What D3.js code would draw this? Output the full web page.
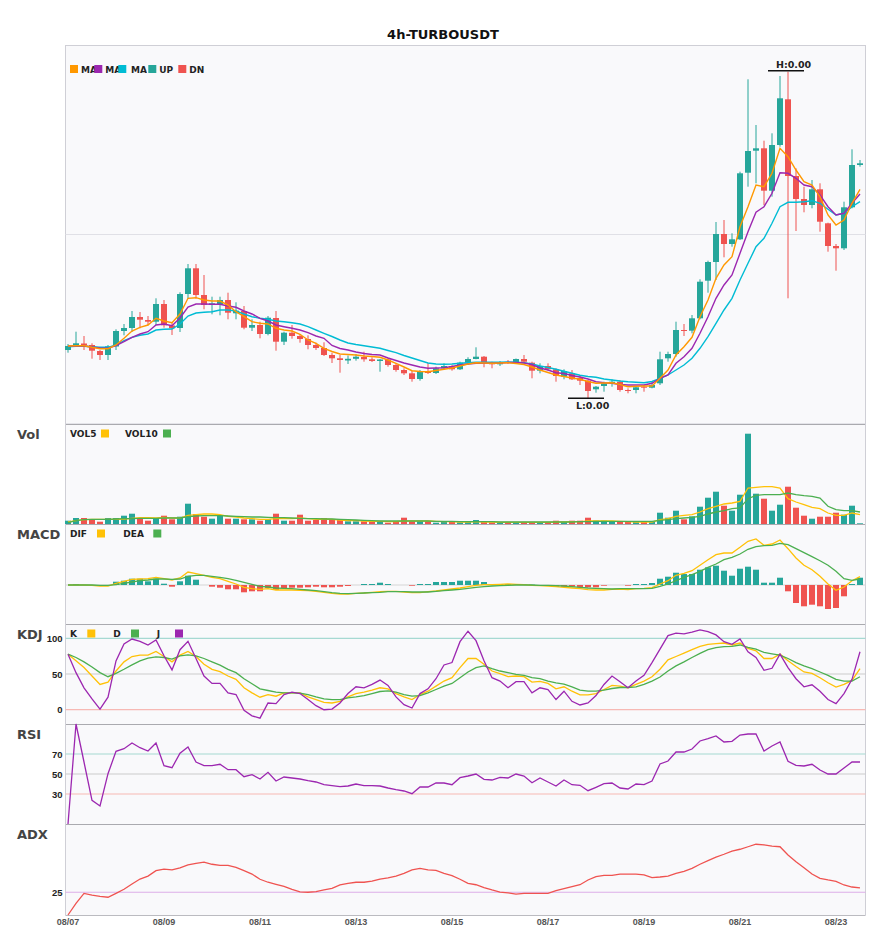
<!DOCTYPE html>
<html>
<head>
<meta charset="utf-8">
<script src="https://cdn.jsdelivr.net/npm/d3@7"></script>
<style>
  body { margin: 0; background: #fff; }
  svg { display: block; font-family: "DejaVu Sans", sans-serif; }
  .tick text { font-weight: bold; }
</style>
</head>
<body>
<svg id="chart" width="885" height="950"></svg>
<script>
// ---- data (prices in units of 1e-5 USDT, 4h candles from 08/07 00:00) ----
var startTime = new Date(2024, 7, 7, 0, 0);

var open = [174,178,180.5,179,173,169,177.5,193,196,207, 204,202.3,220,198.5,196,230,255.7,229,219,220,
  224,210.7,213,196.3,199,190,206,182.3,191.3,188, 185,179,176,169,165.7,163.5,165.2,167,164.7,163,
  164.5,159,154,150.7,145,152.5,151,155.7,158,154.7, 161.3,165,167.3,161.3,159.7,162,161.7,165,161.3,153.3,
  158,154.7,147.3,150.7,146,143.3,134.7,138,140.7,142.3, 134,134,137.3,136.3,140.7,165.7,170,194,193.3,205.7,
  243.3,262,290,280,284.7,351.3,373.3,375.7,333.3,379, 424.7,348,325,319,334.7,300.7,278,275.7,316.7,359];
var high = [180,192.3,188,180.7,174,179,194.7,200,213,212, 208,225.7,224,202,231.7,260,260,249,227.3,227.3,
  231.3,221.7,218,204.7,202.3,208,213,192.3,199,190, 188.7,181.3,181.7,171.3,169,168.5,170,172.3,166.7,165,
  165.5,160.7,155.7,153.3,154,161,157.3,160.7,159,162.3, 166.7,176.7,168,162.3,163,164,165.5,169,162.3,160.7,
  160.7,155.7,154.7,154,149,144,138,142.3,144.7,144, 135.7,138,139,142.3,172.3,172.3,202.3,200,209,244.7,
  263.3,302,304,290.7,352.3,444.7,399,383.3,390.7,448, 452.3,355.7,337.3,344,340.7,301.3,280,322.3,374.7,364];
var low = [171.3,177,174,165.3,164,164,174,188.7,192,195.7, 198.7,199,196.3,189,192,225.3,225.3,214.7,209.7,208.7,
  204.7,204.7,194.7,193,185.7,188.7,173.3,179,185.3,181.3, 174.7,174,168,161,151.3,160,163.3,162.3,162,152.3,
  157.3,152.3,149,142.3,143.3,150,150,155,153.3,154, 159.3,164.7,156.7,155.7,158,160,160.7,160.7,145.7,150.7,
  153.3,142.3,144.7,144,139,125.7,131.3,132.3,137.3,132.3, 130.7,130.7,132.3,135.7,139,162.3,167.3,188,190.7,204.7,
  231.3,244,266.7,277.3,284,337.3,340.7,319,327.3,377.3, 225.7,293,311.7,315.7,292.3,272.3,253.3,274,315.7,357.3];
var close = [178,180.7,179,173.3,169,177.7,193,196,207,204.3, 202.3,220,198.7,195.7,230,255.7,229,219,220.7,224,
  211.3,213.3,196.3,199,190,206.3,182.3,191.3,188,185, 179,176,169,165.7,164,165.2,167.3,164.7,163,164.5,
  159,154,150.7,145,152.3,151,155.7,158,154.7,161.3, 165,167.3,161.3,159.7,161.7,161.5,165,162.3,153.3,158,
  154.7,148,153,144.7,143.3,133,137.3,140.7,142.3,134, 133,136.7,136.3,139,164.7,170,194,193.3,205.7,242.3,
  262,290,280,284.7,350.7,373,375.7,333.3,379,425.7, 348,325,319,334.7,302.3,278,275.7,316.7,359,360.7];

var ma5 = [178,178.3,178.3,176.7,175.3,175.3,179,185.7,193,196.7, 199,205.7,203,201.3,210,225.7,226.3,224,223,223,
  219,212.3,207.3,202.3,200.7,200,195.7,194,193,189.7, 184,180.7,175.7,172.5,170,169.5,169,168,167.5,166.7,
  164,160.7,157,153.3,152.5,152.3,153.5,154.7,156,158, 160,161.3,161,160.7,161,161.3,160.5,159.5,157,154,
  151.5,149,147.5,146,144.7,142.5,140.7,141,141.3,139.5, 137.3,137.7,138,138,145.7,154,169,177.3,186.7,207.3,
  224,245.7,259,267.3,297.3,317.3,339,337.3,350.7,375.7, 367.3,354,342.3,339,327.3,309,299,304,320.7,334.7];
var ma10 = [178,178,178,177,176,175.7,178.3,182.3,186.7,190, 192.3,199,200,198.3,206,217,220,220,219.7,219.7,
  218,216.7,213,210,205.7,203,199,197.3,195.7,194, 191.3,188,185.7,178.5,175.5,174,172,170.5,169.5,169,
  166,163.5,161,159,157,155.7,156,156.3,157.5,159, 160,160.7,160.7,160.7,161,161.5,161.5,161,159.5,156,
  154,151.3,150.5,148.5,147,145,142.3,141.3,140.7,139.5, 139,139,139,140.7,145.7,149,160.7,167.3,175.7,190.7,
  207.3,225.7,239,249,270.7,292.3,311.7,317.3,330.7,351.3, 350.7,345.7,339,337.3,329,317.3,309,310.7,320.7,330];
var ma20 = [177.3,177.7,177.7,177.3,176.7,176.7,179,183.3,186.7,188.7, 190,194,194.7,195,200,208,211,211.7,212.3,214,
  214,213,210,207.3,205.7,204.7,203,202.3,201.3,200, 197.3,194,190.7,187.5,184,181,179.5,178.3,177,175.7,
  173.5,171.3,168.5,166,163.5,161,160,159.7,160,160.7, 161.2,161.7,161.7,161.7,161.8,162,161.7,161.3,160,158,
  156.5,154.7,152.7,150.7,148.7,147.5,146.7,145,144,143, 142.3,141.8,141.3,142.5,145.7,149,154,159,165.7,175.7,
  187.3,200.7,214,225.7,244,260.7,277.3,285.7,300.7,317.3, 321.7,321.7,322.3,323.3,320.7,314.7,309,310.7,317.3,322.3];

var volume = [33,60,60,47,23,60,60,83,103,60, 33,60,83,47,73,203,100,73,53,83, 53,53,47,47,33,47,103,33,33,93,
  33,40,60,40,40,27,27,27,27,27, 13,27,63,27,27,27,13,27,20,17, 20,40,20,17,17,17,13,13,20,13,
  13,33,20,33,33,63,33,33,27,27, 20,20,20,20,113,63,133,47,77,173, 263,323,183,133,293,903,303,253,133,193,
  373,163,83,53,73,73,113,93,183,7];
var vol5 = [20,33,43,47,47,47,47,50,57,63, 63,60,67,60,60,87,93,100,100,93, 77,70,60,53,47,47,53,53,53,60,
  53,47,50,47,40,33,33,30,27,27, 23,23,30,30,30,30,27,23,23,20, 20,23,20,20,17,17,17,17,17,17,
  17,20,20,23,23,30,30,30,30,27, 23,20,20,20,43,53,77,87,93,120, 153,177,200,210,227,360,367,373,373,360,
  253,220,193,167,153,110,87,87,110,93];
var vol10 = [13,33,43,47,47,47,50,53,53,57, 57,57,60,60,60,73,80,83,83,83, 80,77,73,70,70,67,63,63,60,57,
  53,53,50,50,47,43,40,37,33,30, 30,30,30,30,30,30,27,27,27,23, 23,23,23,23,20,20,20,20,20,20,
  20,20,20,20,23,23,27,27,27,27, 27,27,27,27,37,43,53,60,67,77, 100,120,133,153,160,253,287,293,293,293,
  310,293,283,277,260,177,143,133,133,120];

var dif = [0,0,0,-0.3,-1,-1,1.7,3.7,5.7,6, 6.3,7.7,6.3,5,7,13,11.3,9.7,7.7,6.3, 3.7,1,-2.3,-3.7,-4.3,-3.7,-5,-5,-5,-5.3,
  -5.7,-6.3,-7.3,-8.3,-9,-9,-8.3,-8,-7.3,-6.7, -6.3,-6.3,-7,-7.7,-7.7,-6.7,-6,-5,-4,-3,
  -1.7,-0.3,0.3,0.3,0.7,1,0.7,0.3,-0.3,-0.7, -1,-1.7,-2.3,-3,-3.7,-4.7,-5,-5,-4.3,-4,
  -4.7,-3.7,-3.3,-2.7,1,4.3,9.7,11.7,14.3,19.7, 25.3,30.3,32,32,37.7,43.7,46,39.7,41,45,
  36.3,27,19.7,15.3,8.7,1,-5.3,-2,4.3,8.3];
var dea = [0,0,0,0,-0.3,-0.3,0.3,1.7,3,4.3, 5,6,6,5.7,6,8.7,9.7,9.7,8.7,7.7, 6.3,4.7,2.7,0.7,-1.3,-2,-3,-3.3,-3.7,-4.3,
  -5,-5.7,-6.7,-7.7,-8.3,-8.7,-8.3,-8,-7.7,-7.3, -6.7,-6.7,-6.7,-7,-7,-7,-6.3,-5.7,-5,-4.3,
  -3.3,-2.3,-1.7,-1,-0.7,-0.3,0,0,0,-0.3, -0.3,-0.7,-1,-1.7,-2.3,-3,-3.3,-3.7,-4,-3.7,
  -3.7,-3.7,-3.7,-3.3,-1.3,1,4.3,7.7,10.3,13.7, 17.7,21,25.3,27.7,31,35.7,38.3,39.3,39.7,41.7,
  40.3,36.3,32.3,28.3,24.3,19.7,13.7,6.3,4.7,6];
var macd = [0,1,0,0,0,-0.7,3.3,4.3,6.3,6.3, 3.7,6.3,1.3,-1.7,3.7,9.3,5.3,0,-1.7,-2.7, -4.3,-4.3,-7.3,-6.3,-6.3,-3,-5,-3,-2.7,-2.7,
  -2.3,-1.7,-2.3,-2.3,-1.7,-1,0,1,1,2.3, 1,0,0,-0.7,1,1,3,3,3,4.3, 4.3,4.3,3,1,1,1,0.3,0.3,0.3,0,
  0,-1.7,-1.7,-1.7,-2.3,-2.3,-2.3,-0.7,0,0, -0.7,1,1,2,6.3,8.3,12.3,11,11,15.3,
  17.7,19.3,14.3,9.3,16.3,18.3,15.3,2.3,2.3,7.3, -6.3,-18,-21.3,-19.7,-21.3,-24,-23,-11.3,1,7.3];

var kdjK = [77.8,68.4,59,47.2,35.4,38.7,54.2,67,74.5,76.4, 76.4,81.6,74.5,67,76.4,81.6,74.5,63.7,56.6,53.3,
  47.2,42.5,30.7,23.6,17.5,21.2,18.9,23.6,23.6,23.6, 17.9,14.2,10.4,9.4,11.8,17.9,22.6,24.5,27.4,30.7,
  29.2,22.6,17.9,14.2,21.2,25.9,33,40.1,44.8,59, 71.7,71.7,63.7,54.2,50.5,46.2,47.2,46.2,38.7,39.6,
  36.8,29.2,32.1,25.9,20.8,20.8,22.6,28.3,34,33, 30.7,35.4,40.1,46.2,56.6,69.8,74.5,79.2,84,88.7,
  91.5,92.5,93.4,90.6,93.4,85.8,82.5,71.7,71.7,77.8, 68.4,60.4,52.8,50.9,44.8,37.7,31.6,35.4,41,57.5];
var kdjD = [77.8,73.1,67,59.9,51.9,46.2,50.9,56.6,62.7,68.4, 72.2,74.1,73.1,70.8,75.5,76.9,75.5,71.7,67,62.3,
  56.6,51.9,43.4,36.3,29.2,26.9,24.5,23.6,23.6,23.1, 21.2,17.9,15.1,14.2,14.2,16.5,17.9,19.8,22.6,25.5,
  26.4,24.5,21.2,18.9,19.8,23.6,28.3,33,36.8,44.8, 52.8,59,61.3,57.5,54.2,51.9,49.5,48.1,44.8,43.4,
  40.1,37.7,35.8,32.1,27.4,25.9,25.9,27.4,29.7,31.1, 31.1,32.1,35.4,40.1,45.8,54.2,61.3,67,73.1,78.8,
  84,86.8,88.2,88.7,90.6,87.3,84.9,80.2,78.3,76.4, 71.7,66,61.3,57.5,52.8,48.1,42.5,40.1,40.1,46.2];
var kdjJ = [77.8,51.9,30.7,15.1,0.9,17.5,68.4,92,99,95.8, 90.6,97.6,75.5,55.7,84,95.8,71.7,47.2,36.8,36.8,
  23.6,21.2,-0.9,-8.5,-11.8,9.4,8.5,21.2,24.5,22.6, 14.2,5.7,0,0.9,9.4,22.6,32.1,30.7,35.4,41.5,
  34,17.9,7.1,2.4,22.6,29.2,43.4,62.7,66,95.3, 109.9,96.7,68.4,44.8,40.1,30.7,39.2,39.2,23.6,30.7,
  28.3,14.2,25.9,11.8,6.6,9.4,19.8,35.4,47.2,39.2, 30.7,40.1,48.1,66,84.9,103.8,107.1,106.1,108.5,111.8,
  109.4,104.7,95.3,91.5,99.1,81.1,73.1,55.2,58,77.8, 59,43.4,32.1,34.9,25.9,14.2,8.5,22.6,42.5,81.1];

var rsi = [0,100,62,23.7,18,50.3,72.7,75.3,81,76.3, 73,81,58.3,56.3,70.7,77,62,58.3,58.3,59.7,
  54.3,54.3,47.3,49.3,45,51.7,43,47,46,45, 43.3,42,39.3,38.3,37.3,38,40,38.3,38.3,38,
  36,34.3,33,30.3,37,37,41,41,39.3,46.3, 48,50,44.7,44,46.7,46,50,48,41.3,46,
  42,38,44,39.3,38.7,33.3,36.7,40.3,41,36, 35,40,39.3,43,60,63,72,72,75,83,
  85.3,88,82,82.7,89,90,90,73,78,82, 62.7,58.7,58,59.7,54,50,50,56,62,62];

var adx = [15,20.1,24.5,23.7,23.2,22.8,24.5,26.3,28.6,30.8, 32.1,34.5,35.2,34.8,35.7,37,37.7,38.2,37.3,36.8,
  36.8,35.9,34.5,33,30.7,29.4,28.5,27.6,26.3,25.2, 25,25.3,26,26.7,28.2,28.9,29.4,29.4,29.9,30.8,
  31.3,32.1,33.3,34.8,35.5,34.8,34.6,33.3,32.3,30.7, 28.9,28.3,27,26,25.1,24.7,24.2,24.5,24.5,24.5,
  24.5,25.7,26.6,27.5,28.3,30.4,31.9,32.4,32.4,33, 33,33,32.6,31.4,31.7,32.1,33.3,34.2,35.5,37.3,
  38.9,40.4,41.7,43.1,43.9,45,46.1,45.8,45.3,45, 41.4,38.4,35.8,33,31.1,30.4,29.8,28.2,27.3,26.9];

var kdjTicks = [0, 50, 100];
var rsiTicks = [30, 50, 70];
var adxTicks = [25];
var PRICE_UNIT = 1e-5;

// ---- layout ----
var UP = '#26a69a', DN = '#ef5350';
var left = 65.5, right = 865.5;
var svg = d3.select('#chart');
var defs = svg.append('defs');

var times = open.map(function(d, i) { return d3.timeHour.offset(startTime, 4 * i); });

var x = d3.scaleBand()
  .domain(times)
  .range([64, 864])
  .paddingInner(0.25)
  .paddingOuter(0.125);
function cx(i) { return x(times[i]) + x.bandwidth() / 2; }

var panels = [
  { name: '',     top: 45,  bottom: 424 },
  { name: 'Vol',  top: 424, bottom: 524 },
  { name: 'MACD', top: 524, bottom: 624 },
  { name: 'KDJ',  top: 624, bottom: 724 },
  { name: 'RSI',  top: 724, bottom: 824 },
  { name: 'ADX',  top: 824, bottom: 915 }
];

var yPrice = d3.scaleLinear().domain([100, 479]).range([424, 45]);
var yVol = d3.scaleLinear().domain([0, 1000]).range([524, 424]);
var yMacd = d3.scaleLinear().domain([-39, 61]).range([624, 524]);
var yKdj = d3.scaleLinear().domain([-20, 120]).range([724, 624]);
var yRsi = d3.scaleLinear().domain([0, 100]).range([824, 724]);
var yAdx = d3.scaleLinear().domain([15, 55]).range([915, 824]);

// title
svg.append('text')
  .attr('x', 443).attr('y', 39)
  .attr('text-anchor', 'middle')
  .style('font-size', '13px').style('font-weight', 'bold').style('fill', '#111')
  .text('4h-TURBOUSDT');

// panel backgrounds
svg.selectAll('rect.bg').data(panels).enter().append('rect')
  .attr('class', 'bg')
  .attr('x', left).attr('y', function(d) { return d.top; })
  .attr('width', right - left)
  .attr('height', function(d) { return d.bottom - d.top; })
  .style('fill', '#f9f9fb');

svg.append('rect')
  .attr('x', left).attr('y', 45.5).attr('width', right - left).attr('height', 378.5)
  .style('fill', 'none').style('stroke', '#cfcfd6');

svg.append('line')
  .attr('x1', left).attr('x2', right)
  .attr('y1', yPrice(289.5)).attr('y2', yPrice(289.5))
  .style('stroke', '#e0e0e6');

svg.selectAll('line.sep').data(panels.slice(1)).enter().append('line')
  .attr('class', 'sep')
  .attr('x1', left).attr('x2', right)
  .attr('y1', function(d) { return d.top + 0.5; })
  .attr('y2', function(d) { return d.top + 0.5; })
  .style('stroke', '#aaaaaf').style('stroke-width', 1.2);
svg.append('line')
  .attr('x1', left).attr('x2', right).attr('y1', 915.5).attr('y2', 915.5)
  .style('stroke', '#bbbbc0');
[left, right].forEach(function(xx) {
  svg.append('line')
    .attr('x1', xx).attr('x2', xx).attr('y1', 424).attr('y2', 915.5)
    .style('stroke', '#cfcfd6');
});

svg.selectAll('text.pname').data(panels.slice(1)).enter().append('text')
  .attr('class', 'pname')
  .attr('x', 17).attr('y', function(d) { return d.top + 15; })
  .style('font-size', '13px').style('font-weight', 'bold').style('fill', '#444')
  .text(function(d) { return d.name; });

// ---- reference lines in indicator panels ----
function hline(scale, v, color) {
  svg.append('line')
    .attr('x1', left).attr('x2', right)
    .attr('y1', scale(v)).attr('y2', scale(v))
    .style('stroke', color).style('stroke-width', 1.2);
}
hline(yKdj, 100, '#a6d9d2'); hline(yKdj, 50, '#cccccc'); hline(yKdj, 0, '#f7b9b4');
hline(yRsi, 70, '#a6d9d2'); hline(yRsi, 50, '#cccccc'); hline(yRsi, 30, '#f7b9b4');
hline(yAdx, 25, '#dcaee8');
hline(yMacd, 0, '#d6d6d6');

function yAxis(scale, ticks) {
  var g = svg.append('g')
    .attr('transform', 'translate(' + left + ',0)')
    .call(d3.axisLeft(scale).tickValues(ticks).tickSize(0).tickPadding(3));
  g.select('.domain').remove();
  g.selectAll('text').style('font-size', '9.5px').style('fill', '#222');
}
yAxis(yKdj, kdjTicks);
yAxis(yRsi, rsiTicks);
yAxis(yAdx, adxTicks);

// ---- candles ----
var candles = svg.append('g').selectAll('g').data(open).enter().append('g');
candles.append('line')
  .attr('x1', function(d, i) { return cx(i); })
  .attr('x2', function(d, i) { return cx(i); })
  .attr('y1', function(d, i) { return yPrice(high[i]); })
  .attr('y2', function(d, i) { return yPrice(low[i]); })
  .style('stroke', function(d, i) { return close[i] >= open[i] ? UP : DN; })
  .style('stroke-width', 1);
candles.append('rect')
  .attr('x', function(d, i) { return x(times[i]); })
  .attr('width', x.bandwidth())
  .attr('y', function(d, i) { return yPrice(Math.max(open[i], close[i])); })
  .attr('height', function(d, i) {
    return Math.max(1, Math.abs(yPrice(open[i]) - yPrice(close[i])));
  })
  .style('fill', function(d, i) { return close[i] >= open[i] ? UP : DN; });

function drawLine(values, scale, color, width) {
  svg.append('path')
    .datum(values)
    .attr('d', d3.line().x(function(d, i) { return cx(i); }).y(function(d) { return scale(d); }))
    .style('fill', 'none').style('stroke', color).style('stroke-width', width || 1.3);
}
drawLine(ma20, yPrice, '#00bcd4', 1.4);
drawLine(ma10, yPrice, '#9c27b0', 1.4);
drawLine(ma5, yPrice, '#ff9800', 1.4);

// high / low markers
var hi = d3.maxIndex(high), lo = d3.minIndex(low);
function marker(i, yLine, yText, label) {
  svg.append('line')
    .attr('x1', cx(i) - 20).attr('x2', cx(i) + 16)
    .attr('y1', yLine).attr('y2', yLine)
    .style('stroke', '#111').style('stroke-width', 1.5);
  svg.append('text')
    .attr('x', cx(i) - 12).attr('y', yText)
    .style('font-size', '9.5px').style('font-weight', 'bold').style('fill', '#222')
    .text(label);
}
marker(hi, yPrice(high[hi]) - 1, yPrice(high[hi]) - 4, 'H:' + (high[hi] * PRICE_UNIT).toFixed(2));
marker(lo, yPrice(low[lo]), yPrice(low[lo]) + 11, 'L:' + (low[lo] * PRICE_UNIT).toFixed(2));

// ---- volume ----
svg.append('g').selectAll('rect').data(volume).enter().append('rect')
  .attr('x', function(d, i) { return x(times[i]); })
  .attr('width', x.bandwidth())
  .attr('y', function(d) { return yVol(d); })
  .attr('height', function(d) { return yVol(0) - yVol(d); })
  .style('fill', function(d, i) { return close[i] >= open[i] ? UP : DN; });
drawLine(vol5, yVol, '#ffc107', 1.3);
drawLine(vol10, yVol, '#4caf50', 1.3);

// ---- MACD ----
svg.append('g').selectAll('rect').data(macd).enter().append('rect')
  .attr('x', function(d, i) { return x(times[i]); })
  .attr('width', x.bandwidth())
  .attr('y', function(d) { return yMacd(Math.max(0, d)); })
  .attr('height', function(d) { return Math.abs(yMacd(d) - yMacd(0)); })
  .style('fill', function(d) { return d >= 0 ? UP : DN; });
drawLine(dif, yMacd, '#ffc107', 1.3);
drawLine(dea, yMacd, '#4caf50', 1.3);

// ---- KDJ / RSI / ADX ----
drawLine(kdjK, yKdj, '#ffc107', 1.3);
drawLine(kdjD, yKdj, '#4caf50', 1.3);
drawLine(kdjJ, yKdj, '#9c27b0', 1.3);
drawLine(rsi, yRsi, '#9c27b0', 1.3);
drawLine(adx, yAdx, '#ef5350', 1.3);

// ---- legends ----
var clipN = 0;
function legendText(it, y) {
  var t = svg.append('text').attr('x', it.tx).attr('y', y + 7.5)
    .style('font-size', '9px').style('font-weight', 'bold').style('fill', '#222').text(it.name);
  if (it.clipW) {
    // long names are cut off by the next legend item, as in the original
    var id = 'lg' + (clipN++);
    defs.append('clipPath').attr('id', id).append('rect')
      .attr('x', it.tx).attr('y', y - 4).attr('width', it.clipW).attr('height', 16);
    t.attr('clip-path', 'url(#' + id + ')');
  }
}
function legend(items, y) {
  items.forEach(function(it) {
    if (it.textFirst) legendText(it, y);
    svg.append('rect').attr('x', it.sx).attr('y', y).attr('width', 8).attr('height', 8)
      .style('fill', it.color);
    if (!it.textFirst) legendText(it, y);
  });
}
legend([
  { name: 'MA5',  color: '#ff9800', sx: 70,    tx: 81,    clipW: 15 },
  { name: 'MA10', color: '#9c27b0', sx: 94.3,  tx: 105.3, clipW: 15 },
  { name: 'MA20', color: '#00bcd4', sx: 118.3, tx: 131,   clipW: 16 },
  { name: 'UP',   color: UP,        sx: 148.3, tx: 159.3 },
  { name: 'DN',   color: DN,        sx: 178.3, tx: 189.3 }
], 65);
legend([
  { name: 'VOL5',  color: '#ffc107', tx: 70,  sx: 101, textFirst: true },
  { name: 'VOL10', color: '#4caf50', tx: 125, sx: 163, textFirst: true }
], 429.5);
legend([
  { name: 'DIF', color: '#ffc107', tx: 70,    sx: 97,    textFirst: true },
  { name: 'DEA', color: '#4caf50', tx: 123.3, sx: 153.3, textFirst: true }
], 529.5);
legend([
  { name: 'K', color: '#ffc107', tx: 70,    sx: 87.3,  textFirst: true },
  { name: 'D', color: '#4caf50', tx: 113.3, sx: 131,   textFirst: true },
  { name: 'J', color: '#9c27b0', tx: 156.7, sx: 175,   textFirst: true }
], 629.5);

// ---- x axis ----
var xAxis = svg.append('g')
  .attr('transform', 'translate(0,915)')
  .call(d3.axisBottom(x)
    .tickValues(times.filter(function(t, i) { return i % 12 === 0; }))
    .tickFormat(d3.timeFormat('%m/%d'))
    .tickSize(0).tickPadding(4));
xAxis.select('.domain').remove();
xAxis.selectAll('text').style('font-size', '9px').style('fill', '#555');
</script>
</body>
</html>
